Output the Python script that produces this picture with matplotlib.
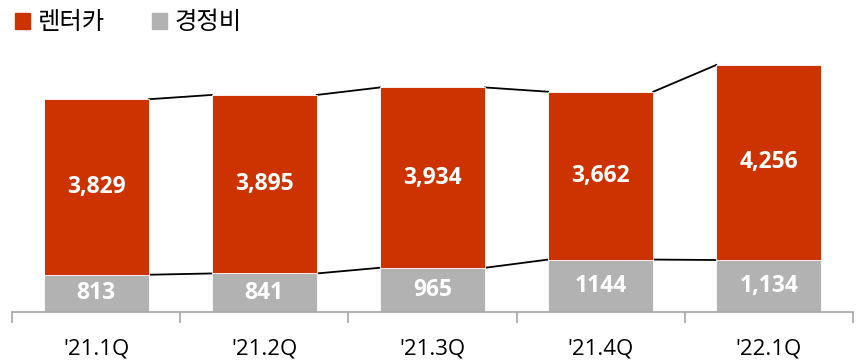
import matplotlib.pyplot as plt
from matplotlib.patches import Patch

plt.rcParams['font.family'] = ['Open Sans', 'Noto Sans CJK KR', 'DejaVu Sans']

quarters = ["'21.1Q", "'21.2Q", "'21.3Q", "'21.4Q", "'22.1Q"]
maint = [813, 841, 965, 1144, 1134]
rental = [3829, 3895, 3934, 3662, 4256]
maint_labels = ["813", "841", "965", "1144", "1,134"]
rental_labels = ["3,829", "3,895", "3,934", "3,662", "4,256"]

red = '#CC3300'
grey = '#B2B2B2'
w = 0.625

fig = plt.figure(figsize=(8.62, 3.62), dpi=100)
ax = fig.add_axes([12 / 862, 50 / 362, 841 / 862, 275 / 362])

x = list(range(len(quarters)))
ax.bar(x, maint, width=w, color=grey, edgecolor='white', linewidth=0.6, zorder=2)
ax.bar(x, rental, width=w, bottom=maint, color=red, edgecolor='white', linewidth=0.6, zorder=2)

tops = [m + r for m, r in zip(maint, rental)]
for i in range(len(x) - 1):
    ax.plot([i + w / 2, i + 1 - w / 2], [maint[i], maint[i + 1]], color='black', lw=1.3, zorder=1)
    ax.plot([i + w / 2, i + 1 - w / 2], [tops[i], tops[i + 1]], color='black', lw=1.3, zorder=1)

for i in x:
    ax.text(i, maint[i] / 2, maint_labels[i], ha='center', va='center', color='white',
            fontsize=16.5, fontweight='bold')
    ax.text(i, maint[i] + rental[i] / 2, rental_labels[i], ha='center', va='center', color='white',
            fontsize=16.5, fontweight='bold')

ax.set_xlim(-0.5, len(x) - 0.5)
ax.set_ylim(0, 6000)
for s in ['top', 'left', 'right']:
    ax.spines[s].set_visible(False)
ax.spines['bottom'].set_color('#A6A6A6')
ax.spines['bottom'].set_linewidth(1.2)
ax.set_yticks([])

ax.set_xticks([i - 0.5 for i in range(len(x) + 1)])
ax.set_xticklabels([])
ax.tick_params(axis='x', which='major', length=8, width=1.2, color='#A6A6A6', direction='out')
ax.set_xticks(x, minor=True)
ax.set_xticklabels(quarters, minor=True, fontsize=16)
ax.tick_params(axis='x', which='minor', length=0, pad=19)

handles = [Patch(color=red, label='렌터카'), Patch(color=grey, label='경정비')]
fig.legend(handles=handles, loc='upper left', bbox_to_anchor=(-0.008, 1.035), ncol=2, frameon=False,
           prop={'family': 'Noto Sans CJK KR', 'size': 17.5},
           handlelength=0.62, handleheight=0.62, handletextpad=0.3, columnspacing=1.95)

fig.savefig('out.png', dpi=100)
